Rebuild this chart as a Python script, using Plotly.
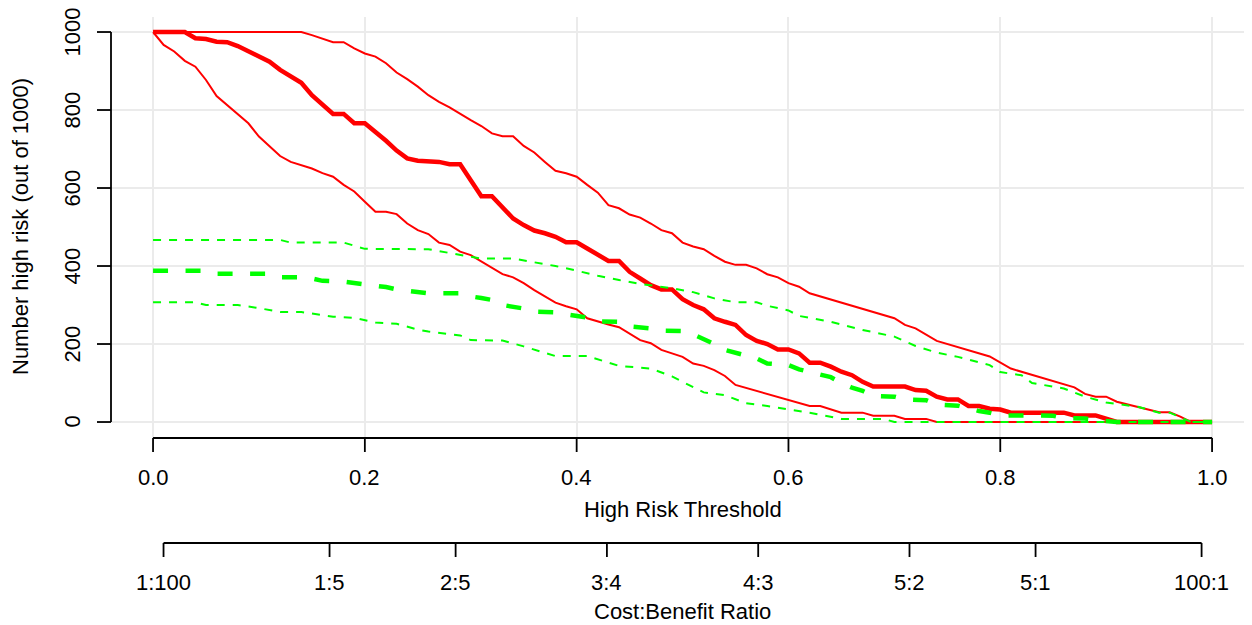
import plotly.graph_objects as go

# ---------------- data ----------------
# Number high risk (out of 1000) - median (thick red)
hr_thr = [0, 0.03, 0.04, 0.05, 0.06, 0.07, 0.08, 0.09, 0.10, 0.11,
          0.12, 0.13, 0.14, 0.15, 0.16, 0.17, 0.18, 0.19, 0.20, 0.21,
          0.22, 0.23, 0.24, 0.25, 0.27, 0.28, 0.29, 0.30, 0.31, 0.32,
          0.33, 0.34, 0.35, 0.36, 0.37, 0.38, 0.39, 0.40, 0.41, 0.42,
          0.43, 0.44, 0.45, 0.46, 0.47, 0.48, 0.49, 0.50, 0.51, 0.52,
          0.53, 0.54, 0.55, 0.56, 0.57, 0.58, 0.59, 0.60, 0.61, 0.62,
          0.63, 0.64, 0.65, 0.66, 0.67, 0.68, 0.71, 0.72, 0.73, 0.74,
          0.75, 0.76, 0.77, 0.78, 0.79, 0.80, 0.81, 0.86, 0.87, 0.89,
          0.90, 0.91, 1.0]
hr_n = [1000, 1000, 984, 982, 975, 974, 964, 950, 939, 924,
        903, 887, 870, 838, 813, 790, 790, 766, 766, 744,
        721, 696, 676, 670, 667, 661, 661, 620, 579, 579,
        552, 522, 505, 491, 484, 475, 461, 461, 445, 428,
        413, 413, 385, 368, 351, 340, 340, 315, 300, 289,
        266, 257, 249, 223, 208, 200, 186, 186, 176, 152,
        152, 142, 129, 120, 103, 91, 91, 82, 80, 65,
        58, 58, 41, 41, 34, 32, 24, 24, 17, 17,
        7, 0, 0]

# upper CI (thin red)
hr_hi_thr = [0, 0.14, 0.15, 0.16, 0.17, 0.18, 0.19, 0.20, 0.21, 0.22,
             0.23, 0.24, 0.25, 0.26, 0.27, 0.28, 0.29, 0.30, 0.31, 0.32,
             0.33, 0.34, 0.35, 0.36, 0.37, 0.38, 0.39, 0.40, 0.41, 0.42,
             0.43, 0.44, 0.45, 0.46, 0.47, 0.48, 0.49, 0.50, 0.51, 0.52,
             0.53, 0.54, 0.55, 0.56, 0.57, 0.58, 0.59, 0.60, 0.61, 0.62,
             0.70, 0.71, 0.72, 0.73, 0.74, 0.79, 0.80, 0.81, 0.87, 0.88,
             0.89, 0.90, 0.91, 0.93, 0.95, 0.96, 0.97, 0.98, 1.0]
hr_hi = [1000, 1000, 992, 984, 974, 974, 958, 945, 937, 920,
         896, 879, 860, 838, 821, 807, 790, 774, 759, 740,
         733, 733, 708, 691, 667, 644, 638, 629, 608, 588,
         556, 548, 532, 524, 509, 492, 484, 460, 450, 443,
         426, 411, 403, 403, 394, 379, 371, 356, 347, 330,
         266, 249, 240, 223, 208, 168, 152, 137, 89, 72,
         65, 65, 52, 38, 25, 25, 14, 0, 0]

# lower CI (thin red)
hr_lo_thr = [0, 0.01, 0.02, 0.03, 0.04, 0.05, 0.06, 0.07, 0.08, 0.09,
             0.10, 0.11, 0.12, 0.13, 0.14, 0.15, 0.16, 0.17, 0.18, 0.19,
             0.20, 0.21, 0.22, 0.23, 0.24, 0.25, 0.26, 0.27, 0.28, 0.29,
             0.30, 0.31, 0.32, 0.33, 0.34, 0.35, 0.36, 0.37, 0.38, 0.39,
             0.40, 0.41, 0.42, 0.43, 0.44, 0.45, 0.46, 0.47, 0.48, 0.49,
             0.50, 0.51, 0.52, 0.53, 0.54, 0.55,
             0.62, 0.63, 0.65, 0.67, 0.68, 0.70, 0.71, 0.73, 0.74, 1.0]
hr_lo = [1000, 967, 950, 926, 911, 877, 836, 813, 790, 766,
         732, 706, 682, 667, 659, 650, 638, 629, 608, 591,
         565, 539, 539, 533, 509, 492, 482, 460, 454, 437,
         428, 411, 394, 379, 371, 356, 338, 321, 306, 297,
         289, 266, 257, 250, 243, 227, 210, 202, 185, 176,
         167, 150, 144, 133, 118, 95,
         41, 41, 24, 24, 16, 16, 8, 8, 0, 0]

# Number high risk with outcome - median (thick green dashed)
ev_thr = [0, 0.05, 0.06, 0.11, 0.12, 0.14, 0.15, 0.16, 0.18, 0.20,
          0.21, 0.22, 0.23, 0.24, 0.25, 0.26, 0.29, 0.30, 0.31, 0.32,
          0.33, 0.34, 0.35, 0.36, 0.38, 0.39, 0.40, 0.41, 0.42, 0.44,
          0.45, 0.47, 0.48, 0.50, 0.51, 0.52, 0.53, 0.54, 0.55, 0.56,
          0.57, 0.58, 0.60, 0.61, 0.62, 0.63, 0.64, 0.65, 0.66, 0.67,
          0.68, 0.70, 0.71, 0.73, 0.74, 0.76, 0.77, 0.78, 0.79, 0.80,
          0.82, 0.85, 0.86, 0.88, 0.89, 0.91, 1.0]
ev_n = [388, 388, 380, 380, 371, 371, 368, 362, 360, 354,
        351, 346, 340, 337, 333, 330, 330, 322, 318, 313,
        300, 295, 291, 283, 281, 276, 272, 268, 258, 257,
        245, 240, 234, 233, 225, 213, 200, 185, 178, 170,
        163, 150, 146, 135, 128, 120, 115, 100, 88, 80,
        67, 65, 58, 56, 45, 42, 35, 28, 24, 17,
        17, 16, 10, 9, 5, 0, 0]

# upper CI (thin green dashed)
ev_hi_thr = [0, 0.12, 0.13, 0.18, 0.19, 0.20, 0.26, 0.27, 0.29, 0.31,
             0.34, 0.36, 0.38, 0.40, 0.42, 0.44, 0.46, 0.49, 0.51, 0.53,
             0.55, 0.57, 0.58, 0.60, 0.61, 0.64, 0.67, 0.70, 0.72, 0.74,
             0.76, 0.79, 0.80, 0.82, 0.83, 0.86, 0.88, 0.90, 0.93, 0.95,
             0.96, 0.98, 1.0]
ev_hi = [467, 467, 460, 460, 452, 444, 443, 438, 428, 419,
         419, 409, 400, 388, 375, 364, 354, 343, 333, 317,
         307, 307, 298, 286, 272, 257, 236, 219, 195, 178,
         167, 146, 128, 120, 100, 86, 65, 50, 39, 24,
         24, 0, 0]

# lower CI (thin green dashed)
ev_lo_thr = [0, 0.04, 0.05, 0.08, 0.10, 0.12, 0.14, 0.16, 0.17, 0.19,
             0.20, 0.21, 0.23, 0.25, 0.26, 0.29, 0.30, 0.33, 0.35, 0.38,
             0.41, 0.44, 0.47, 0.49, 0.50, 0.52, 0.54, 0.56, 0.58, 0.60,
             0.62, 0.65, 0.69, 0.70, 1.0]
ev_lo = [307, 307, 300, 300, 292, 282, 282, 274, 270, 267,
         261, 255, 252, 237, 232, 222, 210, 209, 194, 169,
         169, 144, 137, 117, 103, 76, 69, 48, 41, 33,
         24, 8, 8, 0, 0]

x_ticks = [0.0, 0.2, 0.4, 0.6, 0.8, 1.0]
x_tick_labels = ["0.0", "0.2", "0.4", "0.6", "0.8", "1.0"]
y_ticks = [0, 200, 400, 600, 800, 1000]
y_tick_labels = ["0", "200", "400", "600", "800", "1000"]
cb_labels = ["1:100", "1:5", "2:5", "3:4", "4:3", "5:2", "5:1", "100:1"]

x_title = "High Risk Threshold"
cb_title = "Cost:Benefit Ratio"
y_title = "Number high risk (out of 1000)"

for a, b in [(hr_thr, hr_n), (hr_hi_thr, hr_hi), (hr_lo_thr, hr_lo),
             (ev_thr, ev_n), (ev_hi_thr, ev_hi), (ev_lo_thr, ev_lo)]:
    assert len(a) == len(b)

# cost:benefit tick positions on the threshold scale
def cb_to_thr(lbl):
    c, bnf = lbl.split(":")
    c, bnf = float(c), float(bnf)
    return c / (c + bnf)

cb_ticks = [cb_to_thr(l) for l in cb_labels]

# ---------------- figure ----------------
RED = "#FF0000"
GREEN = "#00FF00"
FONT = "Arial, Liberation Sans, Helvetica, sans-serif"
FS = 22

fig = go.Figure()

def add_line(t, v, color, width, dash):
    fig.add_trace(go.Scatter(x=t, y=v, mode="lines",
                             line=dict(color=color, width=width, dash=dash),
                             hoverinfo="skip", showlegend=False))

add_line(hr_hi_thr, hr_hi, RED, 2, "solid")
add_line(hr_lo_thr, hr_lo, RED, 2, "solid")
add_line(hr_thr, hr_n, RED, 4.5, "solid")
add_line(ev_hi_thr, ev_hi, GREEN, 2, "8px,8px")
add_line(ev_lo_thr, ev_lo, GREEN, 2, "8px,8px")
add_line(ev_thr, ev_n, GREEN, 4.5, "15px,17.5px")

AX = dict(color="#000000", width=1.8)
TICK = 14

shapes = []
# y axis line + ticks
shapes.append(dict(type="line", xref="paper", yref="y", x0=0, x1=0,
                   y0=y_ticks[0], y1=y_ticks[-1], line=AX))
for v in y_ticks:
    shapes.append(dict(type="line", xref="paper", xsizemode="pixel", xanchor=0,
                       x0=-TICK, x1=0, yref="y", y0=v, y1=v, line=AX))
# x axis line + ticks
shapes.append(dict(type="line", xref="x", x0=x_ticks[0], x1=x_ticks[-1],
                   yref="paper", ysizemode="pixel", yanchor=0, y0=0, y1=0, line=AX))
for t in x_ticks:
    shapes.append(dict(type="line", xref="x", x0=t, x1=t, yref="paper",
                       ysizemode="pixel", yanchor=0, y0=0, y1=-TICK, line=AX))
# cost:benefit axis
CB_OFF = -105
shapes.append(dict(type="line", xref="x", x0=cb_ticks[0], x1=cb_ticks[-1],
                   yref="paper", ysizemode="pixel", yanchor=0,
                   y0=CB_OFF, y1=CB_OFF, line=AX))
for t in cb_ticks:
    shapes.append(dict(type="line", xref="x", x0=t, x1=t, yref="paper",
                       ysizemode="pixel", yanchor=0, y0=CB_OFF, y1=CB_OFF - TICK, line=AX))

ann = []
tf = dict(family=FONT, size=FS, color="#000000")
for t, lbl in zip(x_ticks, x_tick_labels):
    ann.append(dict(x=t, xref="x", y=0, yref="paper", yshift=-39, text=lbl,
                    showarrow=False, xanchor="center", yanchor="middle", font=tf))
ann.append(dict(x=0.5, xref="x", y=0, yref="paper", yshift=-71, text=x_title,
                showarrow=False, xanchor="center", yanchor="middle", font=tf))
for t, lbl in zip(cb_ticks, cb_labels):
    ann.append(dict(x=t, xref="x", y=0, yref="paper", yshift=-144, text=lbl,
                    showarrow=False, xanchor="center", yanchor="middle", font=tf))
ann.append(dict(x=0.5, xref="x", y=0, yref="paper", yshift=-173, text=cb_title,
                showarrow=False, xanchor="center", yanchor="middle", font=tf))
for v, lbl in zip(y_ticks, y_tick_labels):
    ann.append(dict(x=0, xref="paper", xshift=-38.5, y=v, yref="y", text=lbl,
                    textangle=-90, showarrow=False, xanchor="center",
                    yanchor="middle", font=tf))
ann.append(dict(x=0, xref="paper", xshift=-91, y=500, yref="y", text=y_title,
                textangle=-90, showarrow=False, xanchor="center",
                yanchor="middle", font=tf))

X0, X1 = -0.0397, 1.0377
Y0, Y1 = -41, 1038.5

# the page body adds an 8px offset, so the figure is sized/margined to compensate
fig.update_layout(
    width=1244, height=617,
    margin=dict(l=103, r=0, t=9, b=187, pad=0),
    paper_bgcolor="white", plot_bgcolor="white",
    xaxis=dict(range=[X0, X1], tickvals=x_ticks, showticklabels=False,
               showgrid=True, gridcolor="#EBEBEB", gridwidth=2,
               zeroline=False, showline=False, ticks="", fixedrange=True),
    yaxis=dict(range=[Y0, Y1], tickvals=y_ticks, showticklabels=False,
               showgrid=True, gridcolor="#EBEBEB", gridwidth=2,
               zeroline=False, showline=False, ticks="", fixedrange=True),
    shapes=shapes,
    annotations=ann,
    showlegend=False,
)

fig.write_html("out.html", config={"displayModeBar": False})
